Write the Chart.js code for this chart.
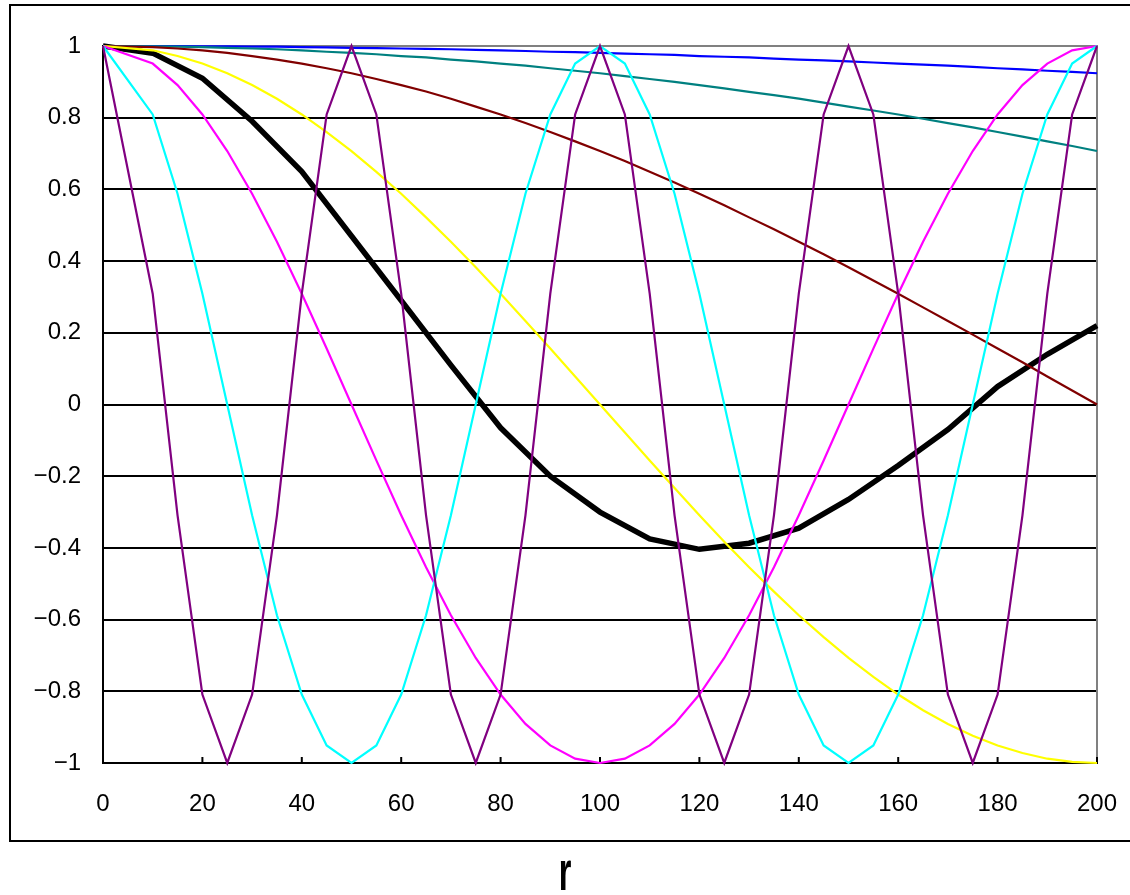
<!DOCTYPE html>
<html>
<head>
<meta charset="utf-8">
<script src="https://cdn.jsdelivr.net/npm/chart.js@4.4.1/dist/chart.umd.min.js"></script>
<style>
  body { margin: 0; background: #fff; width: 1130px; height: 895px; overflow: hidden; position: relative; }
  #frame { position: absolute; left: 9px; top: 4px; width: 1300px; height: 838px; box-sizing: border-box; border: 2px solid #000; }
  #myChart { position: absolute; left: 0; top: 0; }
</style>
</head>
<body>
<div id="frame"></div>
<canvas id="myChart" width="1130" height="895"></canvas>
<script>
// r values of the thin curves (no sample at 5)
const rValues = [0, 10, 15, 20, 25, 30, 35, 40, 45, 50, 55, 60, 65, 70, 75, 80, 85, 90, 95, 100,
    105, 110, 115, 120, 125, 130, 135, 140, 145, 150, 155, 160, 165, 170, 175, 180, 185, 190, 195, 200];
// r values of the thick black curve
const rBlack = [0, 10, 20, 30, 40, 50, 60, 70, 80, 90, 100, 110, 120, 130, 140, 150, 160, 170, 180, 190, 200];

const purple = [1, 0.309, -0.309, -0.809, -1, -0.809, -0.309, 0.309, 0.809, 1, 0.809, 0.309, -0.309, -0.809, -1, -0.809, -0.309, 0.309, 0.809, 1,
    0.809, 0.309, -0.309, -0.809, -1, -0.809, -0.309, 0.309, 0.809, 1, 0.809, 0.309, -0.309, -0.809, -1, -0.809, -0.309, 0.309, 0.809, 1];
const cyan = [1, 0.809, 0.588, 0.309, 0, -0.309, -0.588, -0.809, -0.951, -1, -0.951, -0.809, -0.588, -0.309, 0, 0.309, 0.588, 0.809, 0.951, 1,
    0.951, 0.809, 0.588, 0.309, 0, -0.309, -0.588, -0.809, -0.951, -1, -0.951, -0.809, -0.588, -0.309, 0, 0.309, 0.588, 0.809, 0.951, 1];
const magenta = [1, 0.951, 0.891, 0.809, 0.707, 0.588, 0.454, 0.309, 0.156, 0, -0.156, -0.309, -0.454, -0.588, -0.707, -0.809, -0.891, -0.951, -0.988, -1,
    -0.988, -0.951, -0.891, -0.809, -0.707, -0.588, -0.454, -0.309, -0.156, 0, 0.156, 0.309, 0.454, 0.588, 0.707, 0.809, 0.891, 0.951, 0.988, 1];
const yellow = [1, 0.988, 0.972, 0.951, 0.924, 0.891, 0.853, 0.809, 0.760, 0.707, 0.649, 0.588, 0.522, 0.454, 0.383, 0.309, 0.233, 0.156, 0.078, 0,
    -0.078, -0.156, -0.233, -0.309, -0.383, -0.454, -0.522, -0.588, -0.649, -0.707, -0.760, -0.809, -0.853, -0.891, -0.924, -0.951, -0.972, -0.988, -0.997, -1];
const darkRed = [1, 0.997, 0.993, 0.988, 0.981, 0.972, 0.962, 0.951, 0.938, 0.924, 0.908, 0.891, 0.873, 0.853, 0.831, 0.809, 0.785, 0.760, 0.734, 0.707,
    0.679, 0.649, 0.619, 0.588, 0.556, 0.522, 0.489, 0.454, 0.419, 0.383, 0.346, 0.309, 0.271, 0.233, 0.195, 0.156, 0.118, 0.078, 0.039, 0];
const teal = [1, 0.999, 0.998, 0.997, 0.995, 0.993, 0.991, 0.988, 0.984, 0.981, 0.977, 0.972, 0.968, 0.962, 0.957, 0.951, 0.945, 0.938, 0.931, 0.924,
    0.916, 0.908, 0.900, 0.891, 0.882, 0.872, 0.863, 0.853, 0.842, 0.831, 0.820, 0.809, 0.797, 0.785, 0.773, 0.760, 0.747, 0.734, 0.721, 0.707];
const blue = [1, 1, 1, 0.999, 0.999, 0.998, 0.998, 0.997, 0.996, 0.995, 0.994, 0.993, 0.992, 0.991, 0.989, 0.988, 0.986, 0.984, 0.983, 0.981,
    0.979, 0.977, 0.975, 0.972, 0.970, 0.968, 0.965, 0.962, 0.960, 0.957, 0.954, 0.951, 0.948, 0.945, 0.942, 0.938, 0.935, 0.931, 0.928, 0.924];
const black = [1, 0.98, 0.91, 0.79, 0.65, 0.47, 0.29, 0.11, -0.065, -0.2, -0.3, -0.375, -0.404, -0.387, -0.345, -0.265, -0.17, -0.07, 0.05, 0.14, 0.22];

const xTicks = [0, 20, 40, 60, 80, 100, 120, 140, 160, 180, 200];
const axisTitle = "r";

const toPoints = (xs, ys) => xs.map((x, i) => ({ x: x, y: ys[i] }));

const thin = (data, color) => ({
    data: toPoints(rValues, data),
    borderColor: color,
    borderWidth: 2.2,
    pointRadius: 0,
    tension: 0,
    clip: false
});

const tickFont = { family: "'Liberation Sans', Arial, sans-serif", size: 24 };

// gray top/right border, inner ticks on the r axis, and the big "r"
const framePlugin = {
    id: "frame",
    beforeDatasetsDraw(chart) {
        const { ctx, chartArea: a, scales: { x } } = chart;
        ctx.save();
        ctx.lineWidth = 2;
        ctx.strokeStyle = "#808080";
        ctx.beginPath();
        ctx.moveTo(a.left, a.top);
        ctx.lineTo(a.right, a.top);
        ctx.lineTo(a.right, a.bottom);
        ctx.stroke();
        ctx.strokeStyle = "#000";
        ctx.beginPath();
        xTicks.forEach((v) => {
            const px = x.getPixelForValue(v);
            ctx.moveTo(px, a.bottom);
            ctx.lineTo(px, a.bottom - 6);
        });
        ctx.stroke();
        ctx.restore();
    },
    afterDraw(chart) {
        const ctx = chart.ctx;
        ctx.save();
        ctx.fillStyle = "#000";
        ctx.font = "bold 56px 'Liberation Sans', Arial, sans-serif";
        ctx.textAlign = "center";
        ctx.textBaseline = "alphabetic";
        ctx.translate(565, 890);
        ctx.scale(0.58, 1);
        ctx.fillText(axisTitle, 0, 0);
        ctx.restore();
    }
};

const config = {
    type: "line",
    data: {
        datasets: [
            thin(purple, "#800080"),
            thin(cyan, "#00FFFF"),
            thin(magenta, "#FF00FF"),
            thin(yellow, "#FFFF00"),
            thin(darkRed, "#800000"),
            thin(teal, "#008080"),
            thin(blue, "#0000FF"),
            {
                data: toPoints(rBlack, black),
                borderColor: "#000",
                borderWidth: 5.5,
                pointRadius: 0,
                tension: 0,
                clip: false
            }
        ]
    },
    options: {
        responsive: false,
        animation: false,
        layout: { padding: { top: 46, right: 33, left: 0, bottom: 0 } },
        plugins: { legend: { display: false }, tooltip: { enabled: false } },
        scales: {
            x: {
                type: "linear",
                min: 0,
                max: 200,
                afterFit: (scale) => {
                    scale.height = 132;
                    scale.paddingLeft = 0;
                    scale.paddingRight = 0;
                },
                afterBuildTicks: (scale) => { scale.ticks = xTicks.map((v) => ({ value: v })); },
                grid: { display: false, drawTicks: false },
                border: { display: true, color: "#000", width: 2 },
                ticks: { color: "#000", font: tickFont, padding: 27, maxRotation: 0 }
            },
            y: {
                min: -1,
                max: 1,
                afterFit: (scale) => { scale.width = 103; },
                grid: { color: "#000", lineWidth: 2, drawTicks: false },
                border: { display: true, color: "#000", width: 2 },
                ticks: {
                    stepSize: 0.2,
                    color: "#000",
                    font: tickFont,
                    padding: 22,
                    callback: (v) => {
                        const n = Math.round(v * 10) / 10;
                        return String(n).replace("-", "\u2212");
                    }
                }
            }
        }
    },
    plugins: [framePlugin]
};

const graphics = document.getElementById("myChart");
const myGraph = new Chart(graphics, config);
</script>
</body>
</html>
